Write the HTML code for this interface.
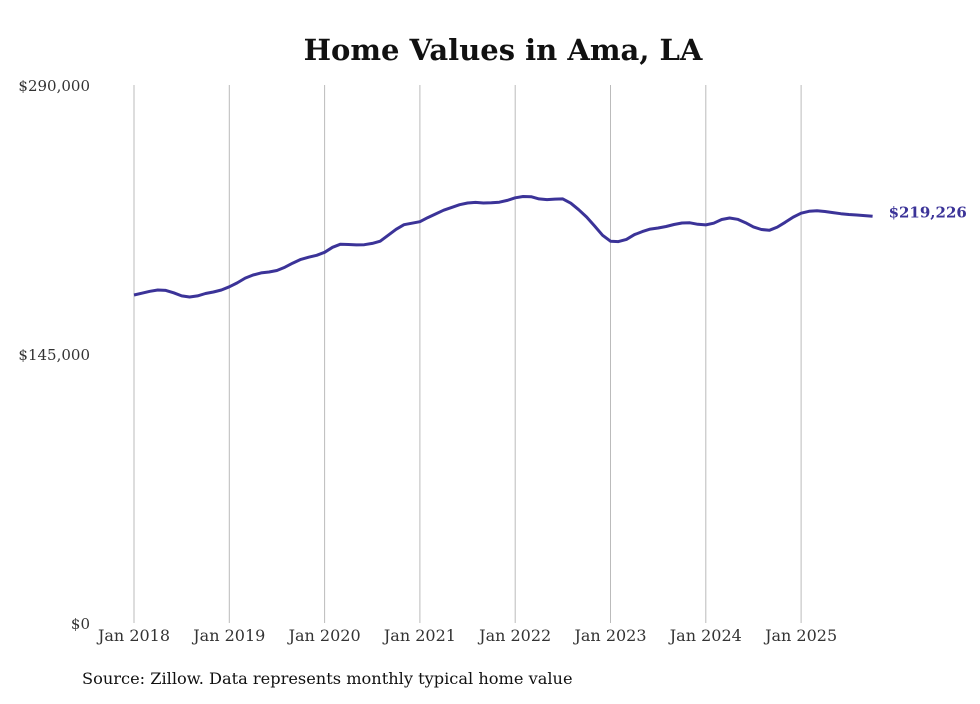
<!DOCTYPE html>
<html><head><meta charset="utf-8"><style>
html,body{margin:0;padding:0;background:#fff;}
svg text{font-family:"DejaVu Serif","Liberation Serif",serif;}
</style></head><body>
<svg width="980" height="699" viewBox="0 0 980 699">
<text x="503" y="60" text-anchor="middle" font-size="29" font-weight="bold" fill="#111">Home Values in Ama, LA</text>
<g id="grid"></g>
<g id="yt"></g>
<g id="xt"></g>
<path id="line" fill="none" stroke="#3b3398" stroke-width="3" stroke-linejoin="round"/>
<text id="endlabel" font-size="15" font-weight="bold" fill="#3b3398"></text>
<text x="82" y="684" font-size="16.2" fill="#111">Source: Zillow. Data represents monthly typical home value</text>
</svg>
<script>
const xLabels=["Jan 2018","Jan 2019","Jan 2020","Jan 2021","Jan 2022","Jan 2023","Jan 2024","Jan 2025"];
const yTicks=[0,145000,290000];
const yTickLabels=["$0","$145,000","$290,000"];
const values=[176.8,177.8,178.8,179.5,179.3,178.0,176.3,175.7,176.3,177.6,178.4,179.5,
181.2,183.3,185.9,187.6,188.7,189.2,190.0,191.8,194.0,196.0,197.2,198.2,
199.8,202.5,204.2,204.0,203.8,203.9,204.6,205.8,209.0,212.2,214.7,215.5,
216.3,218.5,220.5,222.5,224.0,225.5,226.4,226.7,226.4,226.5,226.8,227.8,
229.2,229.9,229.8,228.6,228.2,228.5,228.6,226.3,222.8,218.8,214.0,209.0,
205.8,205.6,206.8,209.3,211.0,212.3,212.9,213.7,214.8,215.6,215.7,214.9,
214.6,215.5,217.5,218.3,217.6,215.8,213.5,212.1,211.7,213.4,216.0,218.8,
220.9,221.9,222.2,221.8,221.2,220.6,220.2,219.9,219.6,219.226];
const NS="http://www.w3.org/2000/svg";
const x=i=>134+i*(95.3/12);
const y=v=>623-v/290000*538;
const grid=document.getElementById('grid'),xt=document.getElementById('xt'),yt=document.getElementById('yt');
xLabels.forEach((l,k)=>{
 const ln=document.createElementNS(NS,'line');
 
 
 ln.setAttribute('x1',x(k*12));ln.setAttribute('x2',x(k*12));ln.setAttribute('y1',85);ln.setAttribute('y2',623);
 ln.setAttribute('stroke','#bbb');ln.setAttribute('stroke-width','1');grid.appendChild(ln);
 const t=document.createElementNS(NS,'text');
 
 
 t.setAttribute('x',x(k*12));t.setAttribute('y',641);t.setAttribute('text-anchor','middle');
 t.setAttribute('font-size','16');t.setAttribute('fill','#333');t.textContent=l;xt.appendChild(t);
});
yTicks.forEach((v,k)=>{
 const t=document.createElementNS(NS,'text');
 
 
 t.setAttribute('x',90);t.setAttribute('y',y(v)+6);t.setAttribute('text-anchor','end');
 t.setAttribute('font-size','15');t.setAttribute('fill','#333');t.textContent=yTickLabels[k];yt.appendChild(t);
});
document.getElementById('line').setAttribute('d',values.map((v,i)=>(i?'L':'M')+x(i).toFixed(1)+' '+y(v*1000).toFixed(1)).join(' '));
const last=values[values.length-1]*1000;
const el=document.getElementById('endlabel');
el.setAttribute('x',x(values.length-1)+16);el.setAttribute('y',y(last)+1);
el.textContent='$'+Math.round(last).toLocaleString('en-US');
</script>
</body></html>
